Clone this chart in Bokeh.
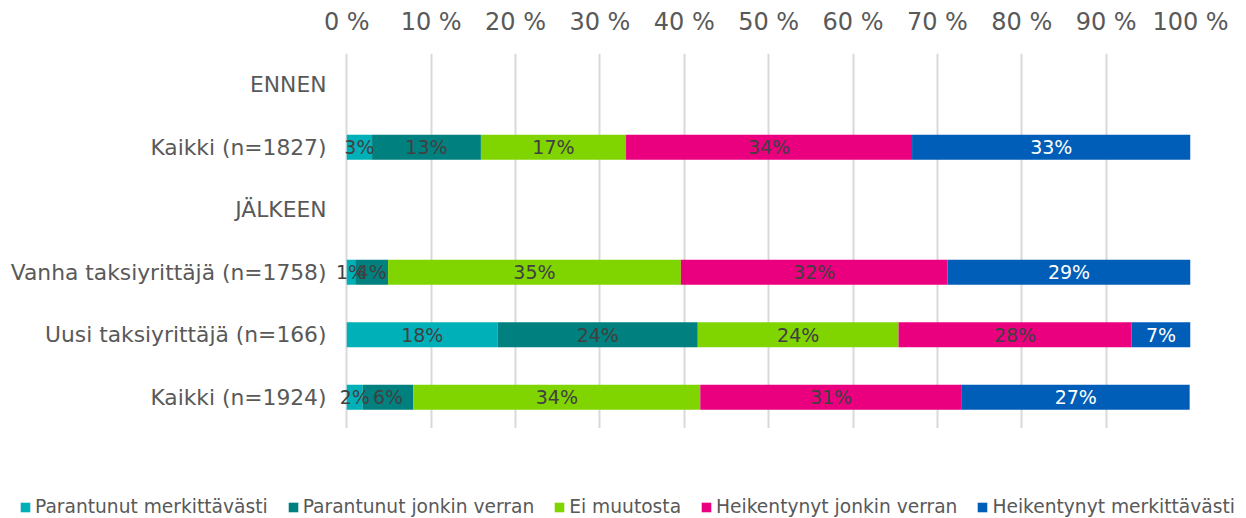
import numpy as np
from bokeh.plotting import figure
from bokeh.layouts import column
from bokeh.models import (ColumnDataSource, FactorRange, Range1d, FixedTicker,
                          PrintfTickFormatter, Legend, LegendItem)
from bokeh.core.properties import value
from bokeh.embed import file_html
from bokeh.resources import INLINE

# ---- data ----
categories = ["ENNEN", "Kaikki (n=1827)", "JÄLKEEN",
              "Vanha taksiyrittäjä (n=1758)", "Uusi taksiyrittäjä (n=166)",
              "Kaikki (n=1924)"]
series = ["Parantunut merkittävästi", "Parantunut jonkin verran", "Ei muutosta",
          "Heikentynyt jonkin verran", "Heikentynyt merkittävästi"]
parantunut_merkittavasti = [0, 3.0, 0, 1.0, 17.9, 1.9]
parantunut_jonkin = [0, 12.9, 0, 3.9, 23.7, 6.0]
ei_muutosta = [0, 17.2, 0, 34.7, 23.8, 34.0]
heikentynyt_jonkin = [0, 33.9, 0, 31.6, 27.6, 31.0]
heikentynyt_merkittavasti = [0, 33.0, 0, 28.8, 7.0, 27.0]
colors = ["#00B0B9", "#00807F", "#80D400", "#EA007F", "#005EB8"]
label_colors = ["#404040", "#404040", "#404040", "#404040", "#FFFFFF"]
tick_values = list(range(0, 101, 10))

values = [parantunut_merkittavasti, parantunut_jonkin, ei_muutosta,
          heikentynyt_jonkin, heikentynyt_merkittavasti]
keys = ["s0", "s1", "s2", "s3", "s4"]

FONT = "DejaVu Sans"
GREY = "#595959"

data = {"cat": categories}
for k, v in zip(keys, values):
    data[k] = v
src = ColumnDataSource(data)

p = figure(y_range=FactorRange(factors=categories[::-1]),
           x_range=Range1d(-2.4, 100),
           x_axis_location="above",
           width=1246, height=428,
           frame_width=864, frame_height=375,
           min_border_left=326, min_border_right=56,
           min_border_top=53, min_border_bottom=0,
           output_backend="svg", toolbar_location=None)
p.frame_align = False

p.hbar_stack(keys, y="cat", height=0.4, color=colors,
             line_color=None, source=src)

# labels
lx, ly, lt, lc = [], [], [], []
arr = np.array(values, dtype=float)
cum = np.cumsum(arr, axis=0)
for j, cat in enumerate(categories):
    for i in range(len(keys)):
        v = arr[i, j]
        if v <= 0:
            continue
        lx.append(cum[i, j] - v / 2)
        ly.append(cat)
        lt.append(f"{int(round(v))}%")
        lc.append(label_colors[i])
lsrc = ColumnDataSource(dict(x=lx, y=ly, t=lt, c=lc))
p.text(x="x", y="y", text="t", source=lsrc, text_color="c",
       text_align="center", text_baseline="middle",
       text_font=value(FONT), text_font_size="19px")

# axes
p.xaxis.ticker = FixedTicker(ticks=tick_values)
p.xaxis.formatter = PrintfTickFormatter(format="%d %%")
p.xaxis.major_label_text_font = FONT
p.xaxis.major_label_text_font_size = "24px"
p.xaxis.major_label_text_color = GREY
p.xaxis.axis_line_color = None
p.xaxis.major_tick_line_color = None
p.xaxis.minor_tick_line_color = None
p.xaxis.major_label_standoff = 12

p.yaxis.major_label_text_font = FONT
p.yaxis.major_label_text_font_size = "21.8px"
p.yaxis.major_label_text_color = GREY
p.yaxis.axis_line_color = None
p.yaxis.major_tick_line_color = None
p.yaxis.minor_tick_line_color = None
p.yaxis.major_tick_out = 0
p.yaxis.major_label_standoff = 0

p.xgrid.grid_line_color = "#D9D9D9"
p.xgrid.grid_line_width = 2
p.ygrid.grid_line_color = None
p.outline_line_color = None

# legend strip
pl = figure(width=1246, height=90, x_range=Range1d(0, 1), y_range=Range1d(0, 1),
            x_axis_type=None, y_axis_type=None, min_border=0,
            output_backend="svg", toolbar_location=None)
pl.frame_align = False
pl.grid.grid_line_color = None
pl.outline_line_color = None
items = []
for s, c in zip(series, colors):
    r = pl.hbar(y=[0], left=[0], right=[0], height=0.4, color=c, line_color=None)
    items.append(LegendItem(label=s, renderers=[r]))
legend = Legend(items=items, orientation="horizontal", location=(19, 1),
                padding=0, spacing=19, margin=0,
                glyph_width=12, glyph_height=12, label_standoff=4,
                label_text_font=FONT, label_text_font_size="18.65px",
                label_text_color=GREY, border_line_color=None,
                background_fill_alpha=0)
pl.add_layout(legend, "center")

layout = column(p, pl, spacing=0)
open("out.html", "w").write(file_html(layout, INLINE))
